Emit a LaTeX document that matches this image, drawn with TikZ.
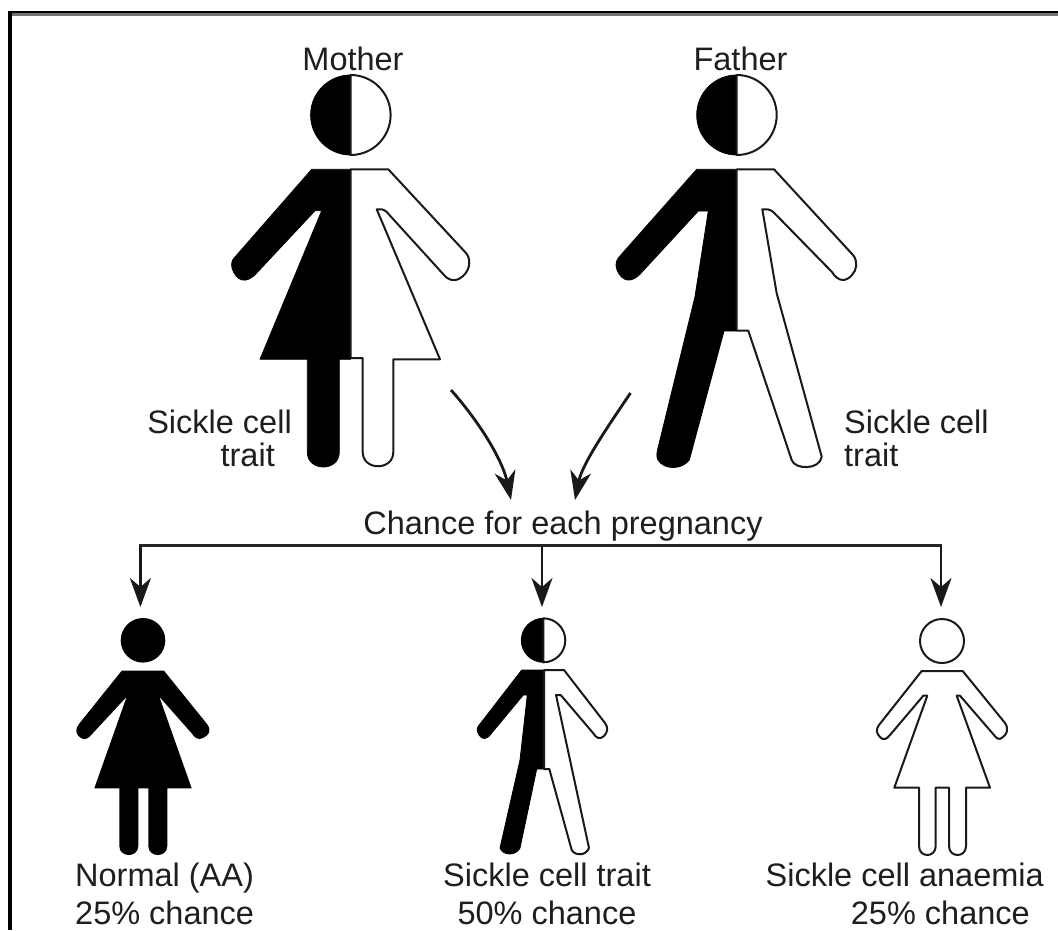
\documentclass[tikz,border=0pt]{standalone}
\usepackage{fontspec}
\setmainfont{Liberation Sans}
\usetikzlibrary{positioning, arrows.meta, calc}
\definecolor{ink}{HTML}{1E1E1E}

\begin{document}
\begin{tikzpicture}[x=1pt, y=-1pt,
        every node/.style={font=\fontsize{32.5}{33}\selectfont, text=ink, inner sep=0pt},
        offspring/.style={font=\fontsize{32.5}{38}\selectfont},
        solidhalf/.style={fill=black, draw=black, line width=0.8pt, line join=round},
        openhalf/.style={fill=white, draw=black!90, line width=2pt, line join=round},
        arr/.style={-{Stealth[length=29pt, width=21pt, inset=9pt]}, line width=2.8pt, color=black!90}]
      \useasboundingbox (0,0) rectangle (1058,930);
      \fill[white] (0,0) rectangle (1058,930);
      % frame
      \fill[black] (8,11) rectangle (12,930);
      \fill[black] (8,11) rectangle (1058,13);
      \fill[black!55] (12,13) rectangle (1058,16);

      % labels
      \node (mother) at (353,58.7) {Mother};
      \node (father) at (740.5,58.7) {Father};
      \node[align=right, anchor=east] (traitm) at (292,438) {Sickle cell\\trait\rule{17pt}{0pt}};
      \node[align=left, anchor=west] (traitf) at (844,438) {Sickle cell\\trait};
      \node[anchor=base] (chance) at (563,534) {Chance for each pregnancy};
      \node[offspring, align=left, anchor=west] (normal) at (75,894) {Normal (AA)\\25\% chance};
      \node[offspring, align=center] (trait) at (547,894) {Sickle cell trait\\50\% chance};
      \node[offspring, align=right, anchor=east] (anaemia) at (1044,894) {Sickle cell anaemia\\25\% chance\rule{14pt}{0pt}};

      % mother
      \fill[solidhalf] (350.6,155) arc (90:270:40) -- cycle;
      \draw[openhalf] (350.6,155) arc (90:-90:40) -- cycle;
      \draw[solidhalf] (311.7,169.3) -- (350.6,169.3) -- (350.6,359.3) -- (339.3,359.3) -- (339.3,452)
        .. controls (339.3,472) and (307.3,472) .. (307.3,452) -- (307.3,359.3) -- (260,359.3)
        -- (321.7,210.7) -- (315,210.7) -- (256.7,273) .. controls (246,285) and (236,281) .. (232,268)
        .. controls (231,263) and (232,260) .. (235,257) -- cycle;
      \draw[openhalf] (350.6,169.3) -- (388.3,169.3) -- (466,253) .. controls (471,259) and (470,268) .. (465,274)
        .. controls (458,282) and (450,282) .. (444,275) -- (386.7,212) .. controls (384,209) and (380,209) .. (376.7,209.3)
        -- (440,359.3) -- (393.3,359.3) -- (393.3,452) .. controls (393.3,471) and (362.7,471) .. (362.7,452)
        -- (362.7,358) -- (350.6,358) -- cycle;

      % father
      \fill[solidhalf] (736.7,155) arc (90:270:40) -- cycle;
      \draw[openhalf] (736.7,155) arc (90:-90:40) -- cycle;
      \draw[solidhalf] (696.7,169.3) -- (736.7,169.3) -- (736.7,331) -- (724,331) -- (689.3,460)
        .. controls (682,470) and (664,470) .. (658,460) .. controls (656,457) and (657,452) .. (658,448)
        -- (695,296.7) -- (708.3,211) -- (698.3,211) -- (642,272) .. controls (632,284) and (622,282) .. (617,270)
        .. controls (615,264) and (616,260) .. (620,256) -- cycle;
      \draw[openhalf] (736.7,169.3) -- (774,169.3) -- (853,255) .. controls (858,261) and (857,270) .. (852,275)
        .. controls (846,282) and (838,282) .. (832,272) -- (773.3,212) .. controls (770,209) and (766,209) .. (762.3,209.3)
        -- (776.7,293.3) -- (821.7,456.7) .. controls (820,470) and (795,470) .. (791.7,460)
        -- (748.3,330.7) -- (736.7,330.7) -- cycle;

      % connectors
      \coordinate (startm) at (451,390);
      \coordinate (startf) at (630.5,393);
      \coordinate (tipm) at (511,500);
      \coordinate (tipf) at (575,500);
      \draw[arr] (startm) .. controls (482,425) and (503,462) .. (tipm);
      \draw[arr] (startf) .. controls (604,432) and (582,465) .. (tipf);
      \coordinate (barl) at (140.4,545.5);
      \coordinate (barm) at (542,545.5);
      \coordinate (barr) at (941,545.5);
      \coordinate (tipa) at (140.4,607);
      \coordinate (tipb) at (542,607);
      \coordinate (tipc) at (941,607);
      \draw[line width=2.8pt, color=black!85, line cap=rect] (barl) -- (barr);
      \draw[arr] (barl) -- (tipa);
      \draw[arr] (barm) -- (tipb);
      \draw[arr] (barr) -- (tipc);

      % normal
      \fill[black] (143,640.3) circle (22.3);
      \fill[black] (121.7,670.7) -- (164,670.7) -- (207,724) .. controls (212,731) and (209,735) .. (203,738)
        .. controls (198,741) and (194,737) .. (191.7,733.3) -- (159.3,696.7) -- (191.7,788.3)
        -- (167.3,788.3) -- (167.3,846) .. controls (167.3,858) and (148.3,858) .. (148.3,846) -- (148.3,788.3)
        -- (138.3,788.3) -- (138.3,846) .. controls (138.3,858) and (119.3,858) .. (119.3,846) -- (119.3,788.3)
        -- (94.3,788.3) -- (126.7,696.7) -- (93,733) .. controls (89,738) and (85,741) .. (81,738)
        .. controls (75,734) and (75,729) .. (79,724) -- cycle;

      % trait
      \fill[solidhalf] (543.3,662.3) arc (90:270:22) -- cycle;
      \draw[openhalf] (543.3,662.3) arc (90:-90:22) -- cycle;
      \draw[solidhalf] (521.7,670) -- (544,670) -- (544,769) -- (536.7,769) -- (520,848)
        .. controls (516,856) and (503,856) .. (500,848) -- (520,760) -- (527.3,695) -- (523.3,695)
        -- (491.7,733) .. controls (487,740) and (482,740) .. (479,735) .. controls (476,730) and (477,727) .. (480,724) -- cycle;
      \draw[openhalf] (544,670) -- (564,670) -- (605,723) .. controls (609,728) and (607,733) .. (604,736)
        .. controls (600,740) and (596,738) .. (593.3,733.3) -- (560.7,695) -- (556,695) -- (589,848)
        .. controls (586,856) and (575,856) .. (571.7,850) -- (549.3,769) -- (544,769) -- cycle;

      % anaemia
      \draw[openhalf] (942,641) circle (22);
      \draw[openhalf] (921.7,671) -- (962.7,671) -- (1005,723) .. controls (1009,729) and (1007,734) .. (1003,737)
        .. controls (999,741) and (996,738) .. (994,735) -- (960,695.7) -- (956.7,695.7) -- (990,787.7)
        -- (966,787.7) -- (966,846) .. controls (966,858) and (949,858) .. (949,846) -- (949,787.7)
        -- (935.7,787.7) -- (935.7,846) .. controls (935.7,858) and (919,858) .. (919,846) -- (919,787.7)
        -- (894.3,787.7) -- (927.3,695.7) -- (923.3,695.7) -- (890,735) .. controls (887,739) and (883,741) .. (880,737)
        .. controls (876,733) and (876,729) .. (879,725) -- cycle;
    \end{tikzpicture}
\end{document}
